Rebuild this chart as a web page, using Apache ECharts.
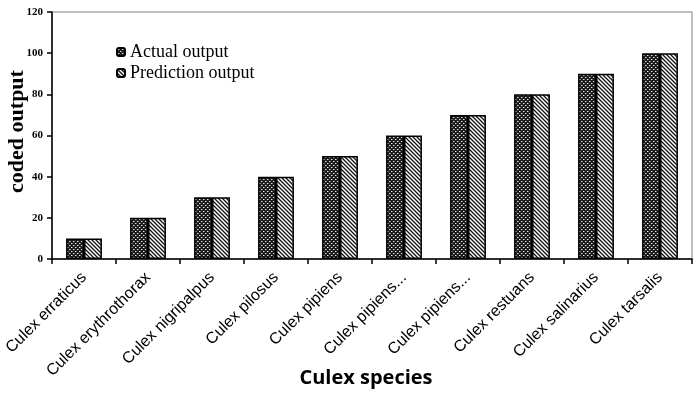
<!DOCTYPE html>
<html><head><meta charset="utf-8">
<script src="https://cdn.jsdelivr.net/npm/echarts@6/dist/echarts.min.js"></script>
<style>html,body{margin:0;padding:0;background:#fff}#c{width:700px;height:394px}</style>
</head><body><div id="c"></div>
<script>
const categories = ['Culex erraticus','Culex erythrothorax','Culex nigripalpus','Culex pilosus','Culex pipiens','Culex pipiens...','Culex pipiens...','Culex restuans','Culex salinarius','Culex tarsalis'];
const actualOutput = [10,20,30,40,50,60,70,80,90,100];
const predictionOutput = [10,20,30,40,50,60,70,80,90,100];
const yTicks = [0,20,40,60,80,100,120];

function meshPattern(){
  const c=document.createElement('canvas');c.width=4;c.height=4;
  const g=c.getContext('2d');
  g.fillStyle='#1e1e1e';g.fillRect(0,0,4,4);
  g.fillStyle='#e0e0e0';g.fillRect(1,1,1,1);g.fillRect(3,3,1,1);
  g.fillStyle='#777';g.fillRect(2,1,1,1);g.fillRect(0,3,1,1);
  return {image:c,repeat:'repeat'};
}
function stripePattern(){
  const c=document.createElement('canvas');c.width=4;c.height=4;
  const g=c.getContext('2d');
  g.fillStyle='#fff';g.fillRect(0,0,4,4);
  g.strokeStyle='#111';g.lineWidth=1.3;
  g.beginPath();g.moveTo(-1,-1);g.lineTo(5,5);g.moveTo(-1,3);g.lineTo(1,5);g.moveTo(3,-1);g.lineTo(5,1);g.stroke();
  return {image:c,repeat:'repeat'};
}
const chart=echarts.init(document.getElementById('c'),null,{renderer:'canvas'});
chart.setOption({
  animation:false,
  grid:{left:52,right:8,top:12,bottom:135,outerBoundsMode:'none',containLabel:false,show:true,borderColor:'#aaa',borderWidth:1.5,backgroundColor:'transparent'},
  legend:{left:116,top:43,orient:'vertical',padding:0,itemWidth:8,itemHeight:8,itemGap:3,
    textStyle:{fontFamily:'Liberation Serif',fontSize:18,color:'#000',padding:[0,0,0,0]},
    data:['Actual output','Prediction output']},
  xAxis:{type:'category',data:categories,
    axisLine:{lineStyle:{color:'#000',width:1.5}},
    axisTick:{show:true,length:5,lineStyle:{color:'#000',width:1.5}},
    axisLabel:{rotate:45,fontFamily:'Liberation Sans',fontSize:16,color:'#000',margin:16,interval:0},
    name:'Culex species',nameLocation:'middle',nameGap:109,nameMoveOverlap:false,
    nameTextStyle:{fontFamily:'Open Sans',fontWeight:'bold',fontSize:20,color:'#000',padding:[0,12,0,0]}},
  yAxis:{type:'value',min:yTicks[0],max:yTicks[yTicks.length-1],interval:20,
    axisLine:{show:true,lineStyle:{color:'#000',width:1.5}},
    axisTick:{show:true,length:5,lineStyle:{color:'#000',width:1.5}},
    splitLine:{show:false},
    axisLabel:{fontFamily:'Liberation Serif',fontWeight:'bold',fontSize:11,color:'#000',margin:9},
    name:'coded output',nameLocation:'middle',nameGap:24,nameMoveOverlap:false,
    nameTextStyle:{fontFamily:'Liberation Serif',fontWeight:'bold',fontSize:22,color:'#000',padding:[0,0,0,8]}},
  series:[
    {name:'Actual output',type:'bar',data:actualOutput,barGap:'0%',barCategoryGap:'44%',
     itemStyle:{color:meshPattern(),borderColor:'#000',borderWidth:1.5}},
    {name:'Prediction output',type:'bar',data:predictionOutput,
     itemStyle:{color:stripePattern(),borderColor:'#000',borderWidth:1.5}}
  ]
});
</script></body></html>
